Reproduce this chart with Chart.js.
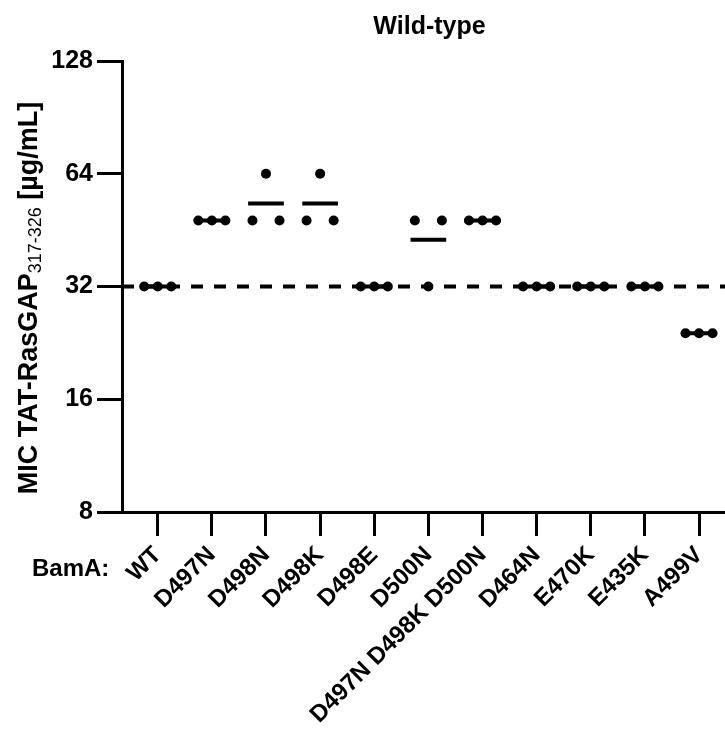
<!DOCTYPE html>
<html>
<head>
<meta charset="utf-8">
<title>Wild-type MIC</title>
<script src="https://cdn.jsdelivr.net/npm/chart.js@4.4.1/dist/chart.umd.min.js"></script>
<style>
  html, body { margin: 0; padding: 0; background: #fff; }
  #wrap { width: 725px; height: 736px; }
</style>
</head>
<body>
<div id="wrap"><canvas id="micChart"></canvas></div>
<script>
const strains = ['WT', 'D497N', 'D498N', 'D498K', 'D498E', 'D500N', 'D497N D498K D500N', 'D464N', 'E470K', 'E435K', 'A499V'];
// MIC of each replicate (ug/mL), plotted left, middle, right within a strain
const repLeft   = [32, 48, 48, 48, 32, 48, 48, 32, 32, 32, 24];
const repMiddle = [32, 48, 64, 64, 32, 32, 48, 32, 32, 32, 24];
const repRight  = [32, 48, 48, 48, 32, 48, 48, 32, 32, 32, 24];
const yTicks = [8, 16, 32, 64, 128];
const wtLevel = 32;

const FONT = '"Liberation Sans", Arial, sans-serif';
const spread = 0.25;   // horizontal spacing of replicates, in category units
const halfBar = 0.33;  // half width of the mean line
const xMin = -0.66, xMax = 10.48;

const dots = [];
const means = [];
strains.forEach((s, i) => {
  const reps = [repLeft[i], repMiddle[i], repRight[i]];
  reps.forEach((v, k) => dots.push({ x: i + (k - 1) * spread, y: v }));
  const m = reps.reduce((a, b) => a + b, 0) / reps.length;
  means.push({ x: i - halfBar, y: m }, { x: i + halfBar, y: m }, { x: i + 0.5, y: null });
});

const extraText = {
  id: 'extraText',
  afterDraw(chart) {
    const ctx = chart.ctx;
    const area = chart.chartArea;
    ctx.save();
    ctx.fillStyle = '#000';

    // title
    ctx.font = 'bold 25px ' + FONT;
    ctx.textAlign = 'center';
    ctx.textBaseline = 'middle';
    ctx.fillText('Wild-type', (area.left + area.right) / 2 + 6, 27);

    // row label left of the strain names
    ctx.font = 'bold 24px ' + FONT;
    ctx.textAlign = 'left';
    ctx.fillText('BamA:', 32, 569);

    // y axis title with subscript, reading upwards
    const parts = [
      { t: 'MIC TAT-RasGAP', f: 'bold 27px ' + FONT, dy: 0 },
      { t: '317-326', f: '18px ' + FONT, dy: 4 },
      { t: ' [µg/mL]', f: 'bold 27px ' + FONT, dy: 0 }
    ];
    let total = 0;
    parts.forEach(p => { ctx.font = p.f; p.w = ctx.measureText(p.t).width; total += p.w; });
    ctx.translate(37, 298);
    ctx.rotate(-Math.PI / 2);
    ctx.textBaseline = 'alphabetic';
    let x = -total / 2;
    parts.forEach(p => {
      ctx.font = p.f;
      ctx.fillText(p.t, x, p.dy);
      x += p.w;
    });
    ctx.restore();
  }
};

new Chart(document.getElementById('micChart'), {
  type: 'scatter',
  data: {
    datasets: [
      {
        label: 'replicates',
        data: dots,
        pointRadius: 5,
        pointBackgroundColor: '#000',
        pointBorderWidth: 0
      },
      {
        type: 'line',
        label: 'mean',
        data: means,
        borderColor: '#000',
        borderWidth: 4,
        pointRadius: 0,
        spanGaps: false
      },
      {
        type: 'line',
        label: 'WT level',
        data: [{ x: xMin, y: wtLevel }, { x: xMax, y: wtLevel }],
        borderColor: '#000',
        borderWidth: 4,
        borderDash: [12, 11],
        pointRadius: 0
      }
    ]
  },
  options: {
    responsive: true,
    maintainAspectRatio: false,
    animation: false,
    layout: { autoPadding: false, padding: { top: 61, right: 0, bottom: 0, left: 0 } },
    plugins: { legend: { display: false }, tooltip: { enabled: false }, title: { display: false } },
    scales: {
      x: {
        type: 'linear',
        min: xMin,
        max: xMax,
        afterBuildTicks: s => { s.ticks = strains.map((_, i) => ({ value: i })); },
        afterFit: s => { s.height = 224; s.paddingLeft = 0; s.paddingRight = 0; },
        border: { display: true, color: '#000', width: 3 },
        grid: { display: true, drawOnChartArea: false, drawTicks: true, tickLength: 24, tickWidth: 3, tickColor: '#000' },
        ticks: {
          autoSkip: false,
          minRotation: 45,
          maxRotation: 45,
          padding: 5,
          color: '#000',
          font: { family: FONT, size: 24, weight: 'bold' },
          callback: v => strains[v]
        }
      },
      y: {
        type: 'logarithmic',
        min: 8,
        max: 128,
        afterBuildTicks: s => { s.ticks = yTicks.map(v => ({ value: v })); },
        afterFit: s => { s.width = 122; },
        border: { display: true, color: '#000', width: 3 },
        grid: { display: true, drawOnChartArea: false, drawTicks: true, tickLength: 25, tickWidth: 3, tickColor: '#000' },
        ticks: {
          padding: 4,
          color: '#000',
          font: { family: FONT, size: 25, weight: 'bold' },
          callback: v => String(v)
        }
      }
    }
  },
  plugins: [extraText]
});
</script>
</body>
</html>
